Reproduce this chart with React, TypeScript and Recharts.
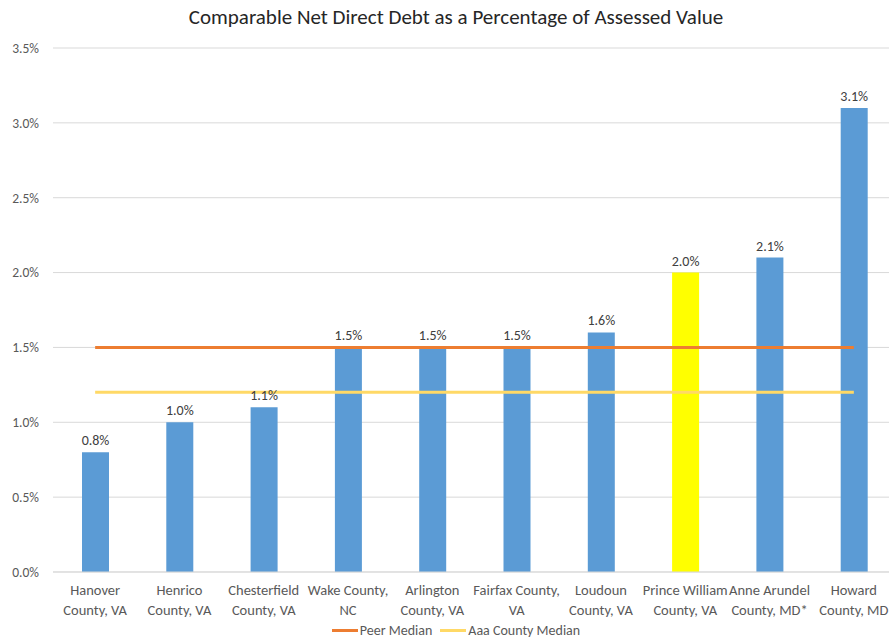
import { ComposedChart, Bar, Line, XAxis, YAxis, CartesianGrid, Legend, Cell, LabelList } from 'recharts';

const counties = [
  'Hanover\nCounty, VA',
  'Henrico\nCounty, VA',
  'Chesterfield\nCounty, VA',
  'Wake County,\nNC',
  'Arlington\nCounty, VA',
  'Fairfax County,\nVA',
  'Loudoun\nCounty, VA',
  'Prince William\nCounty, VA',
  'Anne Arundel\nCounty, MD*',
  'Howard\nCounty, MD',
];
const debtPct = [0.8, 1.0, 1.1, 1.5, 1.5, 1.5, 1.6, 2.0, 2.1, 3.1];
const peerMedian = [1.5, 1.5, 1.5, 1.5, 1.5, 1.5, 1.5, 1.5, 1.5, 1.5];
const aaaMedian = [1.2, 1.2, 1.2, 1.2, 1.2, 1.2, 1.2, 1.2, 1.2, 1.2];
const yTicks = [0, 0.5, 1.0, 1.5, 2.0, 2.5, 3.0, 3.5];
const highlight = 'Prince William\nCounty, VA';
const legendOrder = ['Peer Median', 'Aaa County Median'];

const data = counties.map((name, i) => ({
  name,
  debt: debtPct[i],
  peer: peerMedian[i],
  aaa: aaaMedian[i],
}));

const font = "Carlito, Calibri, 'Open Sans', sans-serif";

function CountyTick({ x, y, payload }: any) {
  const lines = String(payload.value).split('\n');
  return (
    <text x={x} y={y} textAnchor="middle" fill="#595959" fontSize={14.5} fontFamily={font}>
      {lines.map((l, i) => (
        <tspan key={i} x={x} dy={i === 0 ? 15 : 19.5}>{l}</tspan>
      ))}
    </text>
  );
}

function LegendContent({ payload }: any) {
  const items = (payload || [])
    .filter((p: any) => legendOrder.includes(p.value))
    .sort((a: any, b: any) => legendOrder.indexOf(a.value) - legendOrder.indexOf(b.value));
  return (
    <div style={{ display: 'flex', justifyContent: 'center', fontFamily: font, fontSize: 14, color: '#595959', paddingLeft: 16, marginTop: -6 }}>
      {items.map((p: any) => (
        <div key={p.value} style={{ display: 'flex', alignItems: 'center', margin: '0 4px' }}>
          <span style={{ display: 'inline-block', width: 26, height: 3, background: p.color, marginRight: 2 }} />
          <span>{p.value}</span>
        </div>
      ))}
    </div>
  );
}

export default function App() {
  return (
    <div style={{ position: 'absolute', left: 0, top: 0, width: 900, height: 641, background: '#fff', overflow: 'hidden' }}>
      <div style={{ position: 'absolute', top: 4, left: 0, width: 912, textAlign: 'center', fontFamily: font, fontSize: 21, color: '#262626' }}>
        Comparable Net Direct Debt as a Percentage of Assessed Value
      </div>
      <ComposedChart width={900} height={650} data={data} margin={{ top: 48, right: 4, bottom: 0, left: 0 }}>
        <CartesianGrid vertical={false} stroke="#D9D9D9" />
        <XAxis
          dataKey="name"
          interval={0}
          height={56}
          tickLine={false}
          axisLine={{ stroke: '#D9D9D9' }}
          tick={<CountyTick />}
        />
        <YAxis
          width={53}
          domain={[0, 3.5]}
          ticks={yTicks}
          tickLine={false}
          axisLine={false}
          tickSize={0}
          tickMargin={14}
          tickFormatter={(v) => `${v.toFixed(1)}%`}
          tick={{ fill: '#595959', fontSize: 13.5, fontFamily: font }}
        />
        <Bar dataKey="debt" name="Net Direct Debt" barSize={27} fill="#5B9BD5" legendType="none" isAnimationActive={false}>
          {data.map((d) => (
            <Cell key={d.name} fill={d.name === highlight ? '#FFFF00' : '#5B9BD5'} />
          ))}
          <LabelList
            dataKey="debt"
            position="top"
            offset={7}
            formatter={(v: any) => `${Number(v).toFixed(1)}%`}
            style={{ fill: '#404040', fontSize: 14, fontFamily: font }}
          />
        </Bar>
        <Line dataKey="peer" name="Peer Median" stroke="#ED7D31" strokeWidth={3} dot={false} activeDot={false} isAnimationActive={false} />
        <Line dataKey="aaa" name="Aaa County Median" stroke="#FFD966" strokeWidth={3} dot={false} activeDot={false} isAnimationActive={false} />
        <Legend verticalAlign="bottom" height={22} content={<LegendContent />} />
      </ComposedChart>
    </div>
  );
}
